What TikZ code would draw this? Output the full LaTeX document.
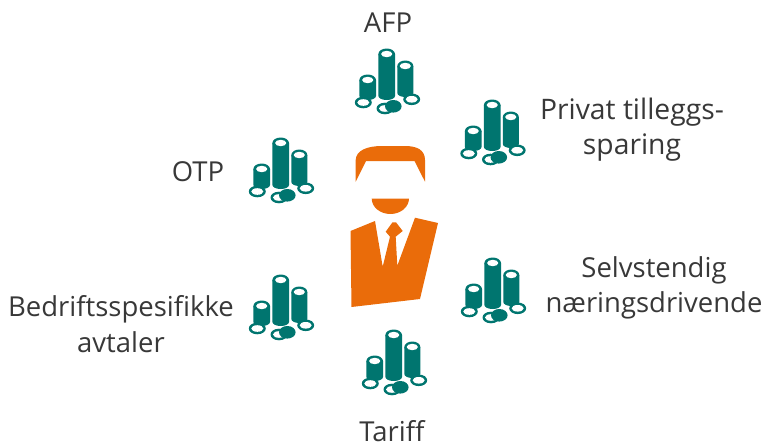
\documentclass[tikz,border=0pt]{standalone}
\usepackage{fontspec}
\setmainfont{Open Sans}
\definecolor{teal1}{HTML}{00756F}
\definecolor{orange1}{HTML}{EA6C0A}
\tikzset{
  lbl/.style={font=\fontsize{20.6}{26.5}\selectfont, text=black!78, align=center, inner sep=0pt},
  coins/.pic={
    \foreach \cx/\hw/\ty/\by in {27.7/8.3/40/56, 46.7/8.3/14/56, 65.3/8/26/53}{
      \fill[teal1] (\cx-\hw,\ty) -- (\cx-\hw,\by) arc[x radius=\hw, y radius=-4, start angle=180, end angle=360] -- (\cx+\hw,\ty) -- cycle;
      \fill[teal1] (\cx,\ty) ellipse[x radius=\hw, y radius=5.5];
      \fill[white] (\cx,\ty) ellipse[x radius=5.6, y radius=3.2];
    }
    \foreach \cx/\cy in {23.3/62.5, 71.7/59.3, 45/68.5}{
      \fill[teal1] (\cx,\cy) ellipse[x radius=8.5, y radius=5.8];
      \fill[white] (\cx,\cy) ellipse[x radius=6, y radius=3.3];
    }
    \fill[teal1] (53.3,66.3) ellipse[x radius=8.3, y radius=6.3];
  }
}
\begin{document}
\begin{tikzpicture}[x=0.75pt,y=-0.75pt]
\useasboundingbox (0,0) rectangle (765,446);
\pic at (340,40) {coins};
\pic at (445.5,91) {coins};
\pic at (234,129) {coins};
\pic at (234,266) {coins};
\pic at (446,249) {coins};
\pic at (347,321) {coins};
\node[lbl] (afp) at (388,23) {AFP};
\node[lbl,font=\fontsize{21.2}{26.5}\selectfont] (privat) at (632,129.5) {Privat tilleggs-\\sparing};
\node[lbl] (otp) at (198,172) {OTP};
\node[lbl] (bedrift) at (121,324) {Bedriftsspesifikke\\avtaler};
\node[lbl] (selv) at (654,288) {Selvstendig\\næringsdrivende};
\node[lbl] (tariff) at (392,431) {Tariff};
% person
\fill[orange1] (355.7,181.7) -- (355.7,160) .. controls (356,150) and (368,146) .. (382,146) -- (405,146) .. controls (417,146) and (425,150) .. (425,160) -- (425,181.7) -- (414.5,161) -- (366,161) -- cycle;
\fill[orange1] (371.7,198.5) -- (409,198.5) arc[start angle=0,end angle=180,x radius=18.65,y radius=15.5] -- cycle;
\fill[orange1] (350.5,231) -- (375,221) -- (382.7,266.7) -- (390,236.7) -- (385.7,231.7) -- (392.5,222.3) -- (396,222.3) -- (402.7,231) -- (395.7,236.7) -- (397.3,265.7) -- (415,217.7) -- (438,223) -- (420,299) -- (351.5,307) -- cycle;
\end{tikzpicture}
\end{document}
